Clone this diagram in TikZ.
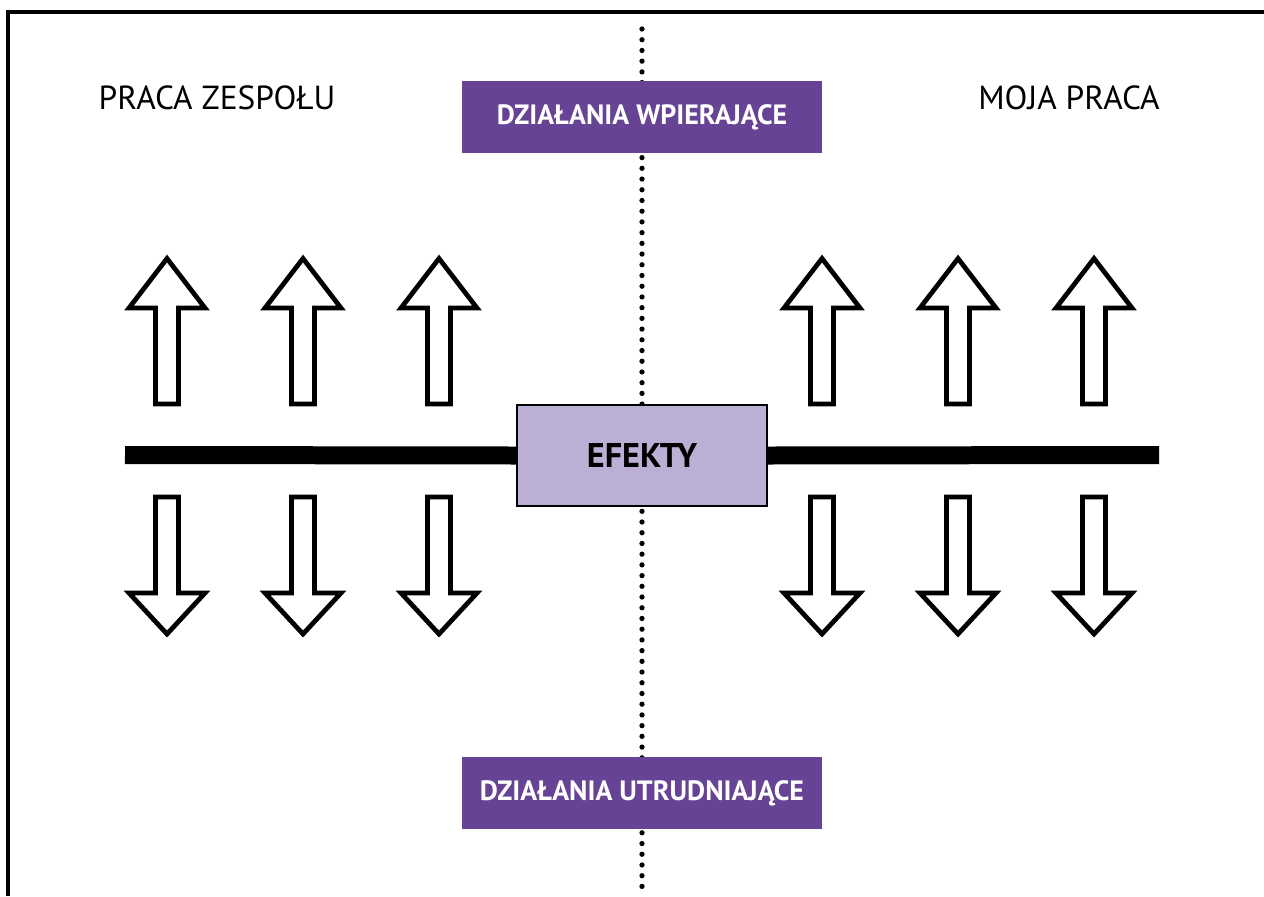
\documentclass[tikz,border=0pt]{standalone}
\usepackage{fontspec}
\setmainfont{PT Sans}
\definecolor{boxpurple}{HTML}{674395}
\definecolor{effectlilac}{HTML}{BBAFD6}

\begin{document}
\begin{tikzpicture}[x=0.02cm, y=-0.02cm,
        actionbox/.style={fill=boxpurple, text=white, font=\bfseries\fontsize{15.9}{18}\selectfont, minimum width=7.2cm, minimum height=1.44cm, inner sep=0pt},
        sidelabel/.style={font=\fontsize{19}{22}\selectfont, inner sep=0pt},
        effectbox/.style={draw, line width=1.3pt, fill=effectlilac, font=\bfseries\fontsize{19.5}{22}\selectfont, minimum width=5cm, minimum height=2.02cm, inner sep=0pt},
        hollow/.style={draw, line width=2.7pt, fill=white, line join=miter},
        uparrow/.pic={\draw[hollow] (-11.5,404) -- (-11.5,308) -- (-38,308) -- (0,258.5) -- (38,308) -- (11.5,308) -- (11.5,404) -- cycle;},
        downarrow/.pic={\draw[hollow] (-11.5,497) -- (-11.5,593) -- (-38,593) -- (0,634) -- (38,593) -- (11.5,593) -- (11.5,497) -- cycle;}]
        \useasboundingbox (0,0) rectangle (1264,896);

        % Frame (open at right and bottom)
        \draw[line width=2.2pt] (8,896) -- (8,12) -- (1264,12);

        % Dotted divider
        \coordinate (dtop) at (642,29);
        \coordinate (dbot) at (642,892);
        \draw[line width=3pt, line cap=round, dash pattern=on 0pt off 6.1pt] (dtop) -- (dbot);

        % Side labels
        \node[sidelabel] (team) at (217,98) {PRACA ZESPOŁU};
        \node[sidelabel] (mine) at (1069,98) {MOJA PRACA};

        % Action boxes
        \node[actionbox] (support) at (642,117) {DZIAŁANIA WPIERAJĄCE};
        \node[actionbox] (hinder) at (642,793) {DZIAŁANIA UTRUDNIAJĄCE};

        % Effects bar
        \node[effectbox] (effects) at (642,455.5) {EFEKTY};
        \coordinate (barL) at (125,455);
        \coordinate (barR) at (1159,455);
        \draw[line width=0.36cm] (barL) -- (effects.west);
        \draw[line width=0.36cm] (effects.east) -- (barR);

        % Upward arrows
        \pic at (167,0) {uparrow};
        \pic at (303,0) {uparrow};
        \pic at (439,0) {uparrow};
        \pic at (822,0) {uparrow};
        \pic at (958,0) {uparrow};
        \pic at (1094,0) {uparrow};

        % Downward arrows
        \pic at (167,0) {downarrow};
        \pic at (303,0) {downarrow};
        \pic at (439,0) {downarrow};
        \pic at (822,0) {downarrow};
        \pic at (958,0) {downarrow};
        \pic at (1094,0) {downarrow};
    \end{tikzpicture}
\end{document}
